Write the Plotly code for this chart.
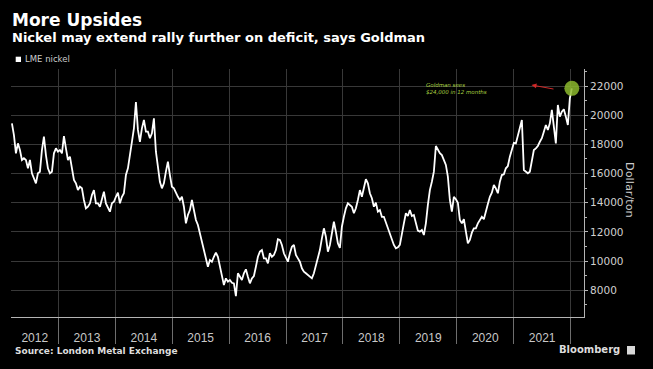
import pandas as pd
import plotly.graph_objects as go

# ---------------- data ----------------
start_date = "2012-03-08"
end_date = "2022-01-09"

nickel = [
    # 2012 - 2013
    19440, 18640, 17390, 18070, 17610, 16930, 17050, 16930, 16360, 16930,
    16020, 15680, 15330, 16020, 16130, 17610, 18530, 17270, 16360, 16020,
    16130, 17390, 17730, 17500, 17610, 17390, 18570, 17730, 16930, 17160,
    16470, 15560, 15330, 14870, 15100, 14990, 14190, 13620, 13730, 13960,
    14530, 14870, 13960, 13960, 13730, 14310, 14760, 13960, 13620, 13390,
    13960, 14070, 14410,
    # 2014 - 2015
    14690, 13960, 14410, 14650, 15900, 16360, 17160, 18180, 19100, 20900,
    18990, 18180, 19100, 19670, 18870, 18870, 18420, 18760, 19790, 17500,
    16470, 15440, 14990, 15330, 16130, 16810, 15900, 15100, 14990, 14650,
    14410, 14190, 14410, 13730, 12590, 13160, 13500, 14190, 13500, 12820,
    12480, 11910, 11220, 10650, 10300, 9620, 10080, 9960, 10300, 10580,
    10300, 9620, 9050, 8360, 8820, 8590,
    # 2016 - 2017
    8710, 8520, 8480, 7600, 9170, 8930, 8710, 9170, 9440, 8930,
    8480, 8820, 8980, 9620, 10300, 10650, 10760, 10190, 10190, 9850,
    10540, 10300, 10420, 10760, 11500, 11450, 11110, 10540, 10260, 9960,
    10540, 10990, 11110, 10420, 10190, 9960, 9510, 9280, 9170, 9050,
    8930, 8820, 9170, 9740, 10300, 10760, 11560, 12250, 11670, 10650,
    11110, 11910, 12700, 12020, 11220,
    # 2018 - 2019
    10900, 12360, 13040, 13620, 13960, 13850, 13730, 13280, 13620, 14190,
    14870, 14410, 14990, 15610, 15330, 14650, 14310, 13730, 14000, 13390,
    13500, 13040, 13040, 12630, 12250, 11790, 11450, 11110, 10880, 10950,
    11110, 11950, 12590, 13280, 13090, 13500, 13090, 13160, 12700, 12090,
    12020, 12130, 11790, 12590, 13850, 14870, 15440, 16130, 17890, 17610,
    17390, 17270, 16930, 16590, 15790,
    # 2019 end - 2022 start
    14190, 13390, 14410, 14240, 14000, 12820, 12590, 12870, 12130, 11220,
    11450, 11950, 12250, 12250, 12590, 12820, 13040, 12870, 13500, 13910,
    14410, 14690, 15220, 14990, 14650, 15440, 15900, 15950, 16360, 16520,
    17160, 17730, 18110, 18070, 18640, 19210, 19670, 16240, 16130, 16020,
    16130, 16930, 17610, 17730, 17890, 18180, 18420, 18870, 19330, 18990,
    19440, 20360, 19210, 18070, 20700, 19900, 20240, 20400, 19900, 19330,
    21160, 21840,
]

years = list(range(2012, 2022))

series_name = "LME nickel"
title_text = "More Upsides"
subtitle_text = "Nickel may extend rally further on deficit, says Goldman"
source_text = "Source: London Metal Exchange"
unit_text = "Dollar/ton"
note_text = "Goldman sees<br>$24,000 in 12 months"

# ---------------- figure ----------------
dates = pd.date_range(start_date, end_date, periods=len(nickel))

x_start = pd.Timestamp("2012-03-02")
x_end = pd.Timestamp("2022-03-28")

label_pos = []
for yr in years:
    a = max(pd.Timestamp(f"{yr}-01-01"), x_start)
    b = min(pd.Timestamp(f"{yr + 1}-01-01"), x_end)
    label_pos.append(a + (b - a) / 2)

FONT = "DejaVu Sans, Verdana, sans-serif"

fig = go.Figure()
fig.add_trace(go.Scatter(
    x=dates, y=nickel, mode="lines", name=series_name,
    line=dict(color="white", width=1.8), hoverinfo="skip", showlegend=False,
))
fig.add_trace(go.Scatter(
    x=[dates[-1]], y=[nickel[-1]], mode="markers",
    marker=dict(size=15, color="rgba(140,185,45,0.85)", line=dict(width=0)),
    hoverinfo="skip", showlegend=False,
))

PL, PR, PT, PB = 11, 584, 69, 317
W, H = 653, 369
pw, ph = PR - PL, PB - PT


def px(xp):
    return (xp - PL) / pw


def py(yp):
    return (PB - yp) / ph


fig.update_layout(
    width=W, height=H,
    margin=dict(l=PL, r=W - PR, t=PT, b=H - PB, pad=0),
    paper_bgcolor="black", plot_bgcolor="black",
    showlegend=False,
    xaxis=dict(
        type="date", range=[x_start, x_end], fixedrange=True,
        tickmode="array", tickvals=label_pos, ticktext=[str(y) for y in years],
        showgrid=False, zeroline=False,
        ticks="outside", ticklen=10, tickcolor="rgba(0,0,0,0)",
        tickfont=dict(family="Liberation Sans, Arial, sans-serif", size=12, color="#c8c8c8"),
        showline=True, linecolor="#b4b4b4", linewidth=1,
        minor=dict(tickmode="linear", tick0="2013-01-01", dtick="M12",
                   ticks="outside", ticklen=26, tickcolor="#6e6e6e", tickwidth=1,
                   showgrid=True, gridcolor="#383838", gridwidth=1),
    ),
    yaxis=dict(
        side="right", range=[6173, 23165], fixedrange=True,
        tickmode="linear", tick0=0, dtick=2000, tickformat="d",
        showgrid=True, gridcolor="#383838", gridwidth=1, zeroline=False,
        ticks="outside", ticklen=3, tickcolor="#b4b4b4",
        showline=True, linecolor="#b4b4b4", linewidth=1,
        tickfont=dict(family=FONT, size=10.5, color="#d0d0d0"),
        minor=dict(dtick=1000, ticks="outside", ticklen=2, tickcolor="#b4b4b4"),
    ),
)

fig.update_layout(
    shapes=[
        # legend swatch
        dict(type="rect", xref="paper", yref="paper",
             x0=px(15.7), x1=px(21), y0=py(62), y1=py(56.7),
             fillcolor="white", line=dict(width=0)),
        # Bloomberg logo square
        dict(type="rect", xref="paper", yref="paper",
             x0=px(627), x1=px(635), y0=py(354.5), y1=py(346),
             fillcolor="#d8d8d8", line=dict(width=0)),
    ],
    annotations=[
        dict(text=f"<b>{title_text}</b>", xref="paper", yref="paper",
             x=px(10), y=py(20.1), xanchor="left", yanchor="middle", showarrow=False,
             font=dict(family=FONT, size=17, color="white")),
        dict(text=f"<b>{subtitle_text}</b>", xref="paper", yref="paper",
             x=px(10), y=py(37.8), xanchor="left", yanchor="middle", showarrow=False,
             font=dict(family=FONT, size=13, color="white")),
        dict(text=series_name, xref="paper", yref="paper",
             x=px(22.5), y=py(59.5), xanchor="left", yanchor="middle", showarrow=False,
             font=dict(family=FONT, size=8.5, color="#cccccc")),
        dict(text=f"<i>{note_text}</i>", xref="paper", yref="paper", align="left",
             x=px(424), y=py(88.3), xanchor="left", yanchor="middle", showarrow=False,
             font=dict(family=FONT, size=5.5, color="#a8d040")),
        dict(text="", xref="paper", yref="paper", x=px(531.5), y=py(85),
             showarrow=True, ax=23.5, ay=4.3, axref="pixel", ayref="pixel",
             arrowhead=2, arrowsize=1, arrowwidth=1, arrowcolor="#d02828", standoff=0),
        dict(text=unit_text, xref="paper", yref="paper", textangle=90,
             x=px(630), y=py(190), xanchor="center", yanchor="middle", showarrow=False,
             font=dict(family=FONT, size=11.3, color="#cccccc")),
        dict(text=f"<b>{source_text}</b>", xref="paper", yref="paper",
             x=px(13), y=py(351.4), xanchor="left", yanchor="middle", showarrow=False,
             font=dict(family=FONT, size=9, color="#dddddd")),
        dict(text="<b>Bloomberg</b>", xref="paper", yref="paper",
             x=px(622), y=py(349.5), xanchor="right", yanchor="middle", showarrow=False,
             font=dict(family=FONT, size=10, color="#dddddd")),
    ],
)

fig.write_html(
    "out.html",
    config={"displayModeBar": False},
    post_script="document.body.style.margin='0';document.body.style.background='black';",
)
